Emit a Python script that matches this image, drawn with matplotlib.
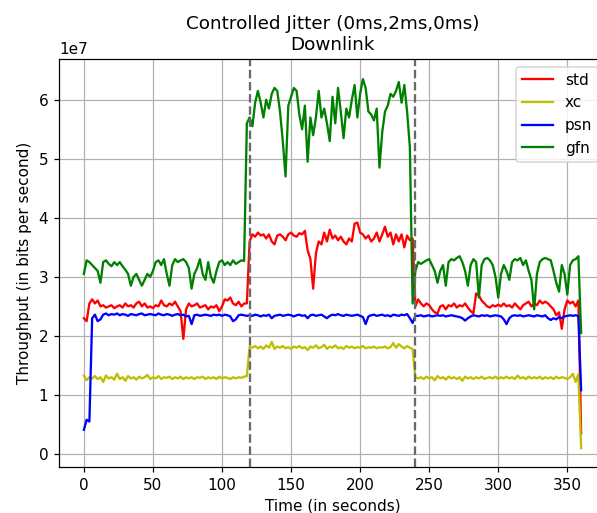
import numpy as np
import matplotlib
matplotlib.use("Agg")
import matplotlib.pyplot as plt


# sample times (seconds), one reading every 2 s
time_s = np.arange(0, 362, 2)

# throughput readings, in units of 1e7 bits per second
std = [
    2.3, 2.25, 2.55, 2.62, 2.55, 2.6, 2.5, 2.52, 2.48, 2.5,
    2.52, 2.47, 2.5, 2.52, 2.48, 2.55, 2.5, 2.52, 2.48, 2.55,
    2.58, 2.5, 2.55, 2.48, 2.5, 2.47, 2.52, 2.5, 2.6, 2.52,
    2.5, 2.55, 2.52, 2.58, 2.5, 2.42, 1.95, 2.45, 2.55, 2.5,
    2.52, 2.55, 2.48, 2.5, 2.52, 2.45, 2.5, 2.48, 2.52, 2.42,
    2.5, 2.62, 2.6, 2.65, 2.55, 2.52, 2.58, 2.5, 2.55, 2.55,
    3.6, 3.72, 3.68, 3.75, 3.7, 3.72, 3.65, 3.72, 3.6, 3.55,
    3.7, 3.72, 3.68, 3.62, 3.72, 3.75, 3.7, 3.68, 3.74, 3.72,
    3.78, 3.45, 3.3, 2.8, 3.4, 3.6, 3.55, 3.75, 3.6, 3.8,
    3.65, 3.7, 3.62, 3.68, 3.6, 3.55, 3.65, 3.6, 3.9, 3.92,
    3.75, 3.72, 3.65, 3.7, 3.6, 3.65, 3.75, 3.6, 3.72, 3.85,
    3.68, 3.75, 3.55, 3.72, 3.6, 3.72, 3.5, 3.7, 3.62, 3.65,
    2.5, 2.62, 2.55, 2.5, 2.55, 2.52, 2.45, 2.4, 2.38, 2.5,
    2.52, 2.45, 2.52, 2.5, 2.55, 2.48, 2.52, 2.5, 2.55, 2.48,
    2.42, 2.38, 2.72, 2.68, 2.6, 2.55, 2.5, 2.48, 2.52, 2.5,
    2.53, 2.5, 2.55, 2.5, 2.52, 2.48, 2.55, 2.5, 2.45, 2.52,
    2.55, 2.58, 2.5, 2.55, 2.52, 2.6, 2.55, 2.58, 2.55, 2.5,
    2.45, 2.35, 2.4, 2.12, 2.45, 2.6, 2.55, 2.58, 2.5, 2.6,
    0.35,
]

xc = [
    1.33, 1.25, 1.3, 1.28, 1.32, 1.27, 1.3, 1.22, 1.33, 1.28,
    1.3, 1.26, 1.36, 1.27, 1.3, 1.24, 1.32, 1.28, 1.3, 1.26,
    1.31, 1.28, 1.3, 1.34, 1.27, 1.3, 1.28, 1.32, 1.27, 1.3,
    1.29, 1.31, 1.27, 1.3, 1.28, 1.31, 1.27, 1.3, 1.28, 1.3,
    1.27, 1.3, 1.29, 1.31, 1.27, 1.3, 1.28, 1.3, 1.27, 1.31,
    1.28, 1.3, 1.29, 1.27, 1.3, 1.28, 1.3, 1.29, 1.31, 1.32,
    1.82, 1.8, 1.83, 1.79, 1.82, 1.78, 1.84, 1.8, 1.9, 1.78,
    1.82, 1.8, 1.83, 1.79, 1.81, 1.78, 1.82, 1.8, 1.83, 1.79,
    1.81, 1.76, 1.82, 1.8, 1.84, 1.79, 1.81, 1.85, 1.78, 1.82,
    1.8, 1.84, 1.79, 1.81, 1.78, 1.83, 1.8, 1.82, 1.79, 1.81,
    1.8, 1.83, 1.79, 1.81, 1.8, 1.82, 1.79, 1.81, 1.8, 1.82,
    1.79, 1.81, 1.88, 1.8, 1.86, 1.82, 1.79, 1.83, 1.8, 1.78,
    1.3, 1.28, 1.3, 1.27, 1.31, 1.28, 1.3, 1.25, 1.32, 1.28,
    1.3, 1.26, 1.31, 1.28, 1.3, 1.27, 1.3, 1.24, 1.31, 1.28,
    1.3, 1.27, 1.3, 1.28, 1.31, 1.27, 1.29, 1.3, 1.28, 1.31,
    1.27, 1.3, 1.28, 1.31, 1.28, 1.3, 1.27, 1.33, 1.28, 1.3,
    1.27, 1.31, 1.28, 1.3, 1.28, 1.31, 1.27, 1.3, 1.28, 1.3,
    1.27, 1.31, 1.28, 1.3, 1.29, 1.27, 1.3, 1.36, 1.22, 1.35,
    0.1,
]

psn = [
    0.41, 0.58, 0.55, 2.3, 2.36, 2.25, 2.28, 2.36, 2.38, 2.35,
    2.37, 2.36, 2.38, 2.35, 2.37, 2.36, 2.34, 2.37, 2.36, 2.35,
    2.37, 2.38, 2.35, 2.36, 2.37, 2.36, 2.35, 2.38, 2.36, 2.35,
    2.37, 2.36, 2.34, 2.36, 2.37, 2.35, 2.36, 2.33, 2.34, 2.2,
    2.35, 2.36, 2.34, 2.35, 2.36, 2.35, 2.34, 2.36, 2.35, 2.36,
    2.34, 2.36, 2.35, 2.33, 2.25, 2.28, 2.35, 2.36, 2.35, 2.34,
    2.35, 2.34, 2.36, 2.35, 2.33, 2.35, 2.34, 2.36, 2.3, 2.34,
    2.35, 2.36, 2.34, 2.35, 2.36, 2.35, 2.33, 2.35, 2.36, 2.34,
    2.35, 2.3, 2.35, 2.36, 2.34, 2.35, 2.36, 2.33, 2.3, 2.34,
    2.36, 2.35, 2.37, 2.35, 2.34, 2.36, 2.35, 2.34, 2.35, 2.36,
    2.34, 2.32, 2.2, 2.33, 2.35, 2.36, 2.34, 2.35, 2.36, 2.34,
    2.35, 2.33, 2.36, 2.35, 2.34, 2.36, 2.35, 2.37, 2.3, 2.22,
    2.34, 2.34, 2.35, 2.33, 2.34, 2.35, 2.33, 2.34, 2.35, 2.34,
    2.35, 2.33, 2.34, 2.35, 2.34, 2.33, 2.32, 2.3, 2.26, 2.3,
    2.33, 2.35, 2.34, 2.33, 2.35, 2.34, 2.35, 2.33, 2.34, 2.35,
    2.34, 2.33, 2.28, 2.2, 2.3, 2.34, 2.35, 2.34, 2.35, 2.33,
    2.34, 2.35, 2.34, 2.33, 2.35, 2.34, 2.33, 2.35, 2.3, 2.27,
    2.3, 2.28, 2.32, 2.3, 2.33, 2.34, 2.35, 2.34, 2.35, 2.34,
    1.08,
]

gfn = [
    3.05, 3.28, 3.25, 3.2, 3.15, 3.1, 2.9, 3.25, 3.28, 3.22,
    3.18, 3.25, 3.2, 3.25, 3.18, 3.12, 3.05, 2.85, 3.0, 3.05,
    2.95, 2.85, 2.95, 3.05, 3.0, 3.1, 3.25, 3.28, 3.2, 3.3,
    3.05, 2.85, 3.2, 3.3, 3.25, 3.28, 3.3, 3.25, 3.15, 2.8,
    3.05, 3.15, 3.3, 3.05, 2.95, 3.25, 3.0, 2.9, 3.1, 3.25,
    3.28, 3.2, 3.25, 3.2, 3.28, 3.22, 3.25, 3.28, 3.27, 5.6,
    5.7, 5.55, 5.95, 6.15, 5.95, 5.7, 6.0, 5.85, 6.1, 6.2,
    6.15, 5.8, 5.3, 4.7, 5.9, 6.05, 6.2, 6.15, 5.75, 5.5,
    5.9, 4.95, 5.7, 5.4, 5.7, 6.15, 5.7, 5.85, 5.6, 5.3,
    6.05, 5.6, 6.2, 5.8, 5.35, 5.85, 5.7, 6.0, 6.25, 5.7,
    6.1, 6.35, 6.2, 5.8, 5.75, 5.65, 5.85, 4.85, 5.45, 5.8,
    5.9, 6.1, 6.05, 6.15, 6.3, 5.95, 6.25, 5.8, 5.2, 2.55,
    3.1, 3.25, 3.22, 3.25, 3.28, 3.3, 3.2, 3.1, 2.9, 3.1,
    3.2, 2.85, 3.25, 3.3, 3.28, 3.32, 3.35, 3.25, 3.1, 2.85,
    3.2, 3.3, 3.25, 2.65, 3.2, 3.3, 3.32, 3.28, 3.2, 3.0,
    2.65, 3.05, 3.2, 3.1, 2.95, 3.25, 3.3, 3.28, 3.32, 3.2,
    3.28, 3.1, 2.95, 2.45, 3.05, 3.25, 3.3, 3.32, 3.3, 3.28,
    3.1, 2.9, 2.75, 3.2, 3.05, 2.7, 3.2, 3.28, 3.3, 3.35,
    2.05,
]

series = [("std", std, "r"), ("xc", xc, "y"), ("psn", psn, "b"), ("gfn", gfn, "g")]
jitter_marks = [120, 240]

DPI = 110


def main():
    fig = plt.figure(figsize=(597 / DPI, 513 / DPI), dpi=DPI)
    # the original picture is cut on the right, so the axes run past the edge
    ax = fig.add_axes([59 / 597, 46 / 513, 547 / 597, 408 / 513])

    for name, vals, col in series:
        ax.plot(time_s, np.array(vals) * 1e7, color=col, label=name, linewidth=1.5)

    for t in jitter_marks:
        ax.axvline(t, color="dimgray", linestyle="--", linewidth=1.5)

    ax.set_xlim(-18, 378)
    ax.set_ylim(-0.22e7, 6.69e7)
    ax.grid(True)
    ax.set_title("Controlled Jitter (0ms,2ms,0ms)\nDownlink")
    ax.set_xlabel("Time (in seconds)")
    ax.set_ylabel("Throughput (in bits per second)")
    ax.legend(loc="upper right")

    fig.savefig("out.png", dpi=DPI)


if __name__ == "__main__":
    main()
